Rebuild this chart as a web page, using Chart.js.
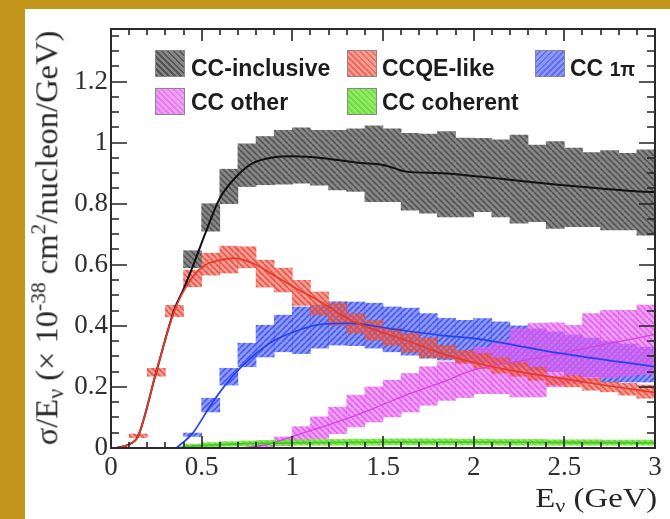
<!DOCTYPE html>
<html><head><meta charset="utf-8">
<script src="https://cdn.jsdelivr.net/npm/chart.js@4"></script>
<style>
html,body{margin:0;padding:0;width:670px;height:519px;overflow:hidden;background:#c4951b;}
#panel{position:absolute;left:25px;top:9px;width:645px;height:510px;background:#fff;}
#c{position:absolute;left:0;top:0;}
.lg{position:absolute;font-family:"Liberation Sans",Arial,sans-serif;font-weight:bold;font-size:23px;color:#1c1c1c;line-height:26px;white-space:nowrap;}
.sw{position:absolute;width:28px;height:25px;border:1px solid #888;}
.ser{position:absolute;font-family:"Liberation Serif","Times New Roman",serif;color:#262626;white-space:nowrap;}
.sub{font-size:68%;vertical-align:-0.28em;}
.sup{font-size:66%;vertical-align:0.55em;}
</style></head>
<body>
<div id="panel"></div>
<canvas id="c" width="670" height="519"></canvas>
<div id="legend"></div>
<div id="ytitle" class="ser" style="font-size:30px;line-height:32px;">σ/E<span class="sub">ν</span> (× 10<span class="sup">-38</span> cm<span class="sup">2</span>/nucleon/GeV)</div>
<div id="xtitle" class="ser" style="font-size:28px;line-height:30px;right:13px;top:483px;transform:scaleX(1.17);transform-origin:right center;">E<span class="sub">ν</span> (GeV)</div>
<script>
// ---------- data ----------
const binCenters = [0.05,0.15,0.25,0.35,0.45,0.55,0.65,0.75,0.85,0.95,1.05,1.15,1.25,1.35,1.45,1.55,1.65,1.75,1.85,1.95,2.05,2.15,2.25,2.35,2.45,2.55,2.65,2.75,2.85,2.95];

const incLo = [null,null,null,null,0.59,0.71,0.80,0.856,0.862,0.864,0.867,0.861,0.845,0.84,0.807,0.807,0.779,0.769,0.757,0.757,0.774,0.757,0.736,0.741,0.719,0.725,0.725,0.714,0.714,0.697];
const incHi = [null,null,null,null,0.646,0.80,0.913,0.996,1.02,1.04,1.048,1.04,1.04,1.045,1.055,1.045,1.03,1.028,1.036,1.015,1.014,1.009,1.025,0.992,1.003,0.982,0.967,0.974,0.965,0.976];

const qeLo = [null,0.034,0.235,0.43,0.528,0.566,0.573,0.59,0.527,0.511,0.467,0.435,0.402,0.376,0.353,0.336,0.314,0.297,0.293,0.277,0.26,0.245,0.235,0.222,0.206,0.2,0.189,0.184,0.173,0.163];
const qeHi = [null,0.046,0.261,0.467,0.582,0.638,0.661,0.659,0.615,0.589,0.549,0.511,0.474,0.44,0.418,0.392,0.376,0.36,0.336,0.32,0.31,0.295,0.28,0.265,0.233,0.238,0.228,0.216,0.212,0.206];

const piLo = [null,null,null,null,0.038,0.118,0.206,0.266,0.298,0.315,0.309,0.327,0.337,0.335,0.327,0.315,0.304,0.294,0.288,0.282,0.28,0.275,0.265,0.255,0.25,0.24,0.233,0.216,0.216,0.216];
const piHi = [null,null,null,null,0.049,0.163,0.261,0.343,0.402,0.435,0.462,0.468,0.479,0.478,0.474,0.462,0.458,0.44,0.425,0.418,0.424,0.413,0.40,0.39,0.38,0.37,0.36,0.35,0.34,0.33];

const otLo = [null,null,null,null,null,null,null,null,0.003,0.008,0.016,0.03,0.047,0.069,0.085,0.102,0.118,0.14,0.156,0.165,0.178,0.178,0.167,0.167,0.2,0.21,0.22,0.23,0.235,0.24];
const otHi = [null,null,null,null,null,null,null,null,0.02,0.036,0.07,0.102,0.134,0.173,0.2,0.222,0.244,0.266,0.282,0.304,0.33,0.35,0.391,0.408,0.41,0.402,0.44,0.451,0.451,0.468];

const cohLo = [null,null,null,null,0.002,0.004,0.006,0.007,0.008,0.008,0.009,0.009,0.009,0.009,0.009,0.01,0.01,0.01,0.01,0.01,0.01,0.009,0.009,0.009,0.009,0.009,0.009,0.009,0.009,0.009];
const cohHi = [null,null,null,null,0.013,0.018,0.021,0.023,0.025,0.026,0.027,0.028,0.028,0.029,0.029,0.03,0.03,0.03,0.03,0.029,0.029,0.028,0.028,0.028,0.027,0.027,0.027,0.026,0.026,0.026];

const incLineX = [0.03,0.1,0.15,0.25,0.35,0.4,0.45,0.52,0.6,0.7,0.78,0.9,1.0,1.17,1.36,1.5,1.63,1.82,2.03,2.25,2.48,2.7,2.94,3.0];
const incLineY = [0,0.012,0.04,0.25,0.455,0.52,0.593,0.703,0.818,0.894,0.932,0.952,0.955,0.949,0.934,0.927,0.905,0.9,0.889,0.875,0.861,0.85,0.839,0.838];
const qeLineX = [0.03,0.1,0.15,0.25,0.35,0.45,0.52,0.6,0.68,0.8,0.9,1.0,1.155,1.32,1.49,1.65,1.82,2.0,2.2,2.48,2.75,3.0];
const qeLineY = [0,0.012,0.04,0.25,0.45,0.56,0.599,0.615,0.622,0.6,0.565,0.53,0.479,0.419,0.38,0.348,0.31,0.28,0.255,0.228,0.203,0.182];
const piLineX = [0.36,0.45,0.556,0.667,0.777,0.888,1.0,1.155,1.32,1.54,1.82,2.0,2.48,3.0];
const piLineY = [0,0.048,0.146,0.233,0.298,0.348,0.378,0.405,0.408,0.391,0.369,0.359,0.31,0.266];
const otLineX = [0.7,0.85,0.99,1.16,1.32,1.49,1.65,1.82,1.98,2.23,2.48,2.73,3.0];
const otLineY = [0,0.01,0.036,0.068,0.1,0.14,0.179,0.214,0.252,0.282,0.31,0.34,0.372];
const cohLineX = [0.35,0.45,0.6,0.8,1.0,1.5,2.0,2.5,3.0];
const cohLineY = [0,0.006,0.011,0.015,0.017,0.019,0.019,0.018,0.017];

const xTickValues = [0,0.5,1,1.5,2,2.5,3];
const xTickLabels = ['0','0.5','1','1.5','2','2.5','3'];
const yTickValues = [0,0.2,0.4,0.6,0.8,1.0,1.2];
const yTickLabels = ['0','0.2','0.4','0.6','0.8','1','1.2'];
const legendLabels = ['CC-inclusive','CCQE-like','CC 1π','CC other','CC coherent'];

// ---------- styles ----------
const styles = {
  inc: {bg:'rgb(135,135,135)', fg:'rgb(84,84,84)', dir:'\\', line:'#111111', lw:2},
  qe:  {bg:'rgba(238,95,80,0.62)', fg:'rgba(230,68,52,0.78)', dir:'\\', line:'#e8392b', lw:1.7},
  pi:  {bg:'rgba(70,90,242,0.62)', fg:'rgba(55,72,236,0.78)', dir:'/', line:'#2243ee', lw:1.7},
  ot:  {bg:'rgba(232,100,242,0.62)', fg:'rgba(220,80,236,0.74)', dir:'\\', line:'#d645e0', lw:1.3},
  coh: {bg:'rgba(125,232,72,0.85)', fg:'rgba(100,215,50,0.9)', dir:'\\', line:'#3fcc1f', lw:1.8}
};
function hatch(s){
  const c=document.createElement('canvas'); c.width=c.height=6;
  const g=c.getContext('2d'); g.fillStyle=s.bg; g.fillRect(0,0,6,6);
  g.strokeStyle=s.fg; g.lineWidth=1.6; g.beginPath();
  for(let k=-1;k<=1;k++){
    if(s.dir==='\\'){g.moveTo(k*6,0);g.lineTo(k*6+6,6);} else {g.moveTo(k*6,6);g.lineTo(k*6+6,0);}
  }
  g.stroke();
  return g.createPattern(c,'repeat');
}
function band(lo,hi){return binCenters.map((c,i)=>lo[i]==null?null:{x:c,y:[lo[i],hi[i]]}).filter(Boolean);}
function curve(xs,ys){return xs.map((x,i)=>({x:x,y:ys[i]}));}
function barDs(label,lo,hi,s,order){
  return {type:'bar',label,data:band(lo,hi),backgroundColor:hatch(s),borderWidth:0,grouped:false,
    barPercentage:1,categoryPercentage:1,order};
}
function lineDs(label,xs,ys,s,order){
  return {type:'line',label,data:curve(xs,ys),borderColor:s.line,borderWidth:s.lw,pointRadius:0,
    fill:false,cubicInterpolationMode:'monotone',order};
}

const frameTicks = {
  id:'frameTicks',
  afterDatasetsDraw(chart){
    const {ctx,chartArea:a,scales:{x,y}}=chart;
    ctx.save();
    ctx.strokeStyle='#222'; ctx.lineWidth=1.6;
    ctx.beginPath();
    for(let i=0;i<=30;i++){
      const px=Math.round(x.getPixelForValue(i*0.1));
      const L=(i%5===0)?12:6;
      ctx.moveTo(px,a.bottom); ctx.lineTo(px,a.bottom-L);
      ctx.moveTo(px,a.top); ctx.lineTo(px,a.top+L);
    }
    for(let j=0;j*0.05<=y.max+1e-9;j++){
      const py=Math.round(y.getPixelForValue(j*0.05));
      const L=(j%4===0)?16:8;
      ctx.moveTo(a.left,py); ctx.lineTo(a.left+L,py);
      ctx.moveTo(a.right,py); ctx.lineTo(a.right-L,py);
    }
    ctx.stroke();
    ctx.lineWidth=2; ctx.strokeStyle='#2a2a2a';
    ctx.strokeRect(a.left,a.top,a.right-a.left,a.bottom-a.top);
    ctx.restore();
  }
};

const tickFont={family:'"Liberation Serif", "Times New Roman", serif',size:27};
new Chart(document.getElementById('c'),{
  type:'bar',
  data:{datasets:[
    barDs(legendLabels[0],incLo,incHi,styles.inc,20),
    barDs(legendLabels[2],piLo,piHi,styles.pi,19),
    barDs(legendLabels[3],otLo,otHi,styles.ot,18),
    barDs(legendLabels[1],qeLo,qeHi,styles.qe,17),
    barDs(legendLabels[4],cohLo,cohHi,styles.coh,16),
    lineDs(legendLabels[3],otLineX,otLineY,styles.ot,6),
    lineDs(legendLabels[4],cohLineX,cohLineY,styles.coh,5),
    lineDs(legendLabels[2],piLineX,piLineY,styles.pi,4),
    lineDs(legendLabels[0],incLineX,incLineY,styles.inc,3),
    lineDs(legendLabels[1],qeLineX,qeLineY,styles.qe,2)
  ]},
  options:{
    responsive:false,animation:false,devicePixelRatio:1,
    layout:{padding:{left:0,top:29,right:15,bottom:0}},
    plugins:{legend:{display:false},tooltip:{enabled:false}},
    scales:{
      x:{type:'linear',min:0,max:3,offset:false,
        grid:{display:false,drawTicks:false},border:{display:false},
        afterBuildTicks:s=>{s.ticks=xTickValues.map(v=>({value:v}));},
        afterFit:s=>{s.height=71;},
        ticks:{font:tickFont,color:'#2e2e2e',padding:4,maxRotation:0,autoSkip:false,
          callback:(v,i)=>xTickLabels[i]}},
      y:{type:'linear',min:0,max:1.372,
        grid:{display:false,drawTicks:false},border:{display:false},
        afterBuildTicks:s=>{s.ticks=yTickValues.map(v=>({value:v}));},
        afterFit:s=>{s.width=111;},
        ticks:{font:tickFont,color:'#2e2e2e',padding:3,autoSkip:false,
          callback:(v,i)=>yTickLabels[i]}}
    }
  },
  plugins:[frameTicks]
});

// ---------- legend (HTML) ----------
const legendPos=[[155,50,191,55],[347,50,382,55],[535,50,570,55],[155,88,191,89],[347,88,382,89]];
const legendStyle=[styles.inc,styles.qe,styles.pi,styles.ot,styles.coh];
const lg=document.getElementById('legend');
legendLabels.forEach((t,i)=>{
  const [sx,sy,tx,ty]=legendPos[i]; const s=legendStyle[i];
  const sw=document.createElement('div'); sw.className='sw';
  const ang = s.dir==='\\' ? '45deg' : '-45deg';
  sw.style.cssText=`left:${sx}px;top:${sy}px;background:repeating-linear-gradient(${ang},${s.fg} 0 1.6px,${s.bg} 1.6px 4.2px),#fff;`;
  lg.appendChild(sw);
  const d=document.createElement('div'); d.className='lg';
  d.style.left=tx+'px'; d.style.top=ty+'px';
  if(t==='CC 1π'){d.innerHTML='CC <span style="font-size:84%">1π</span>';} else d.textContent=t;
  lg.appendChild(d);
});

// ---------- y title placement ----------
const yt=document.getElementById('ytitle');
const targetLen=415;
let fs=30; yt.style.fontSize=fs+'px';
fs=fs*targetLen/yt.offsetWidth; yt.style.fontSize=fs.toFixed(2)+'px';
const w=yt.offsetWidth,h=yt.offsetHeight;
yt.style.left=(47-w/2)+'px'; yt.style.top=(237.5-h/2)+'px';
yt.style.transform='rotate(-90deg)';
</script>
</body></html>
